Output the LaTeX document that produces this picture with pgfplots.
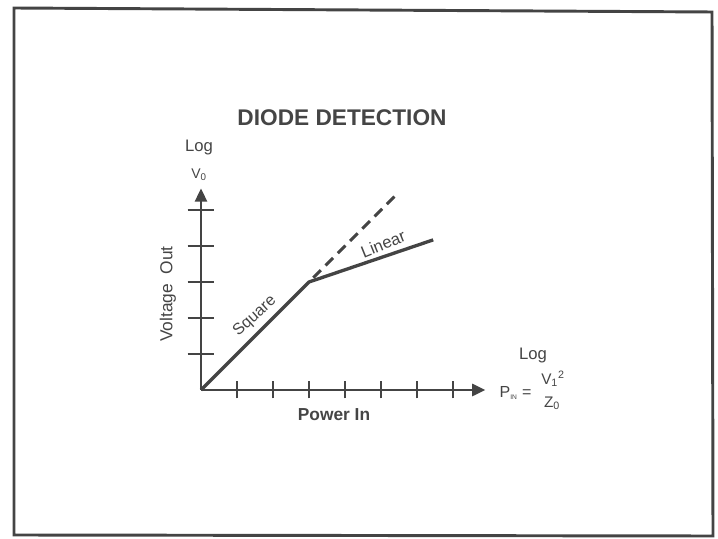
\documentclass[border=0pt]{standalone}
\usepackage{pgfplots}
\pgfplotsset{compat=1.18}
\usetikzlibrary{arrows.meta}
\usepackage{fontspec}
\setmainfont{Liberation Sans}
\definecolor{ink}{HTML}{444444}
\definecolor{txt}{HTML}{454545}

\begin{document}
\begin{tikzpicture}[x=0.75pt,y=0.75pt]
\useasboundingbox (0,0) rectangle (718,539);
\fill[white] (0,0) rectangle (718,539);
% slide frame
\draw[ink, line width=2.2pt, line join=miter] (14,531) -- (712,527) -- (713,3) -- (14,4) -- cycle;

\begin{axis}[
  at={(150.75pt,111.75pt)}, anchor=south west,
  x=27pt, y=27pt,
  xmin=0, xmax=7.9, ymin=0, ymax=5.6,
  axis lines=left,
  axis line style={ink, line width=2.2pt, -{Triangle[length=10pt,width=9pt]}},
  xtick={1,2,3,4,5,6,7}, xticklabels={},
  ytick=\empty,
  extra y ticks={1,2,3,4,5}, extra y tick labels={},
  extra tick style={major tick length=20pt},
  tick align=center,
  major tick length=12.75pt,
  tick style={ink, line width=2pt},
  clip=false,
]
% square-law region and linear region
\addplot[ink, line width=2.5pt, line join=round] coordinates {(0,0) (3,3) (6.45,4.17)};
% square-law extrapolation
\addplot[ink, line width=2.3pt, dash pattern=on 8pt off 5pt] coordinates {(3.12,3.12) (5.5,5.5)};
\node[txt, rotate=42, font=\fontsize{12}{12}\selectfont] at (axis cs:1.5,2.05) {Square};
\node[txt, rotate=22, font=\fontsize{12.5}{12.5}\selectfont] at (axis cs:5.06,4.06) {Linear};
\end{axis}

\node[txt, font=\fontsize{17}{20}\selectfont\bfseries] at (342,421) {DIODE DETECTION};
\node[txt, font=\fontsize{12.5}{14}\selectfont] at (199,391) {Log};
\node[txt, font=\fontsize{10.5}{12}\selectfont] at (199,364) {V\textsubscript{0}};
\node[txt, rotate=90, font=\fontsize{13}{14}\selectfont] at (168,245) {Voltage\ \ Out};
\node[txt, font=\fontsize{13}{14}\selectfont\bfseries] at (334,124) {Power In};
\node[txt, font=\fontsize{12.5}{14}\selectfont] at (533,184) {Log};
\node[txt, anchor=west, font=\fontsize{12}{14}\selectfont] at (495,146) {P\textsubscript{\tiny IN} =};
\node[txt, font=\fontsize{11.5}{14}\selectfont] at (553,160) {V\textsubscript{1}\textsuperscript{2}};
\node[txt, font=\fontsize{11.5}{14}\selectfont] at (552,136) {Z\textsubscript{0}};
\end{tikzpicture}
\end{document}
